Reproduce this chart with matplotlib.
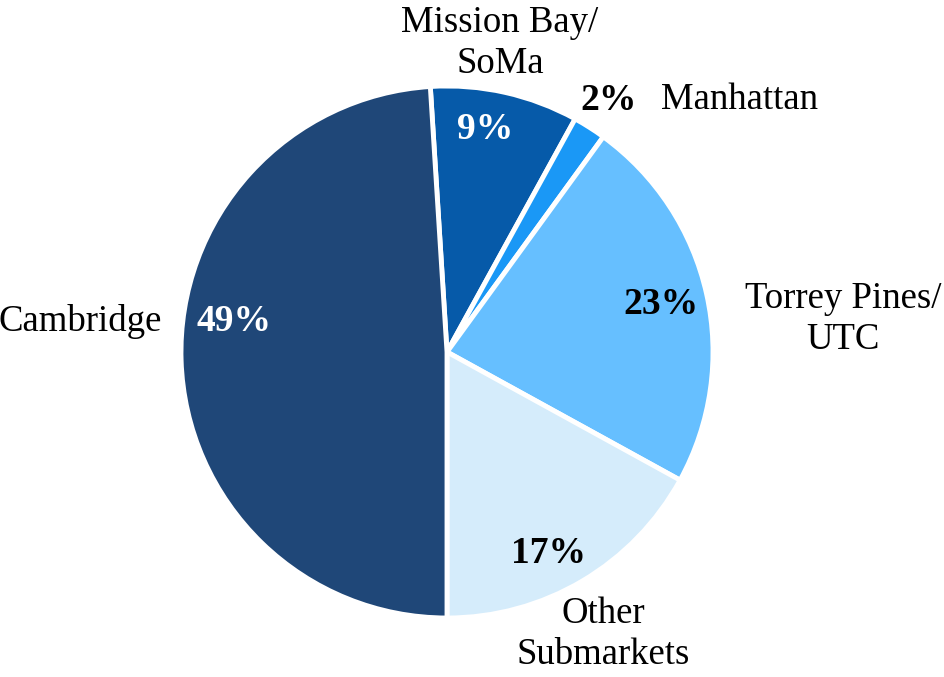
import matplotlib
matplotlib.use('Agg')
import matplotlib.pyplot as plt

# data (clockwise from the top)
labels = ['Mission Bay/\nSoMa', 'Manhattan', 'Torrey Pines/\nUTC', 'Other\nSubmarkets', 'Cambridge']
shares = [9, 2, 23, 17, 49]
colors = ['#065AA9', '#1A98F6', '#66BFFF', '#D5ECFB', '#1F4778']
pct_colors = ['white', 'black', 'black', 'black', 'white']

plt.rcParams['font.family'] = ['Liberation Serif', 'DejaVu Serif']

fig = plt.figure(figsize=(9.45, 6.77), dpi=100)
ax = fig.add_axes([0, 0, 1, 1])

wedges, texts, autotexts = ax.pie(shares, labels=labels, colors=colors,
                                  startangle=93.6, counterclock=False,
                                  autopct=lambda p: '%.0f%%' % p,
                                  wedgeprops=dict(edgecolor='white', linewidth=3.5),
                                  textprops=dict(fontsize=26.5))

# hand placed label positions (radius units)
label_pos = [(0.199, 1.16), (1.098, 0.947), (1.49, 0.124), (0.586, -1.06), (-1.38, 0.113)]
pct_pos = [(0.143, 0.835), (0.609, 0.944), (0.805, 0.18), (0.383, -0.756), (-0.80, 0.113)]

for t, p in zip(texts, label_pos):
    t.set_position(p)
    t.set_ha('center')
    t.set_va('center')
    t.set_linespacing(1.25)

for t, p, c in zip(autotexts, pct_pos, pct_colors):
    t.set_position(p)
    t.set_color(c)
    t.set_fontweight('bold')
    t.set_fontsize(27)
    t.set_ha('center')
    t.set_va('center')

r = 266.0
ax.set_aspect('auto')
ax.set_xlim(-447 / r, (945 - 447) / r)
ax.set_ylim(-(677 - 352) / r, 352 / r)
ax.axis('off')

fig.savefig('out.png', dpi=100)
